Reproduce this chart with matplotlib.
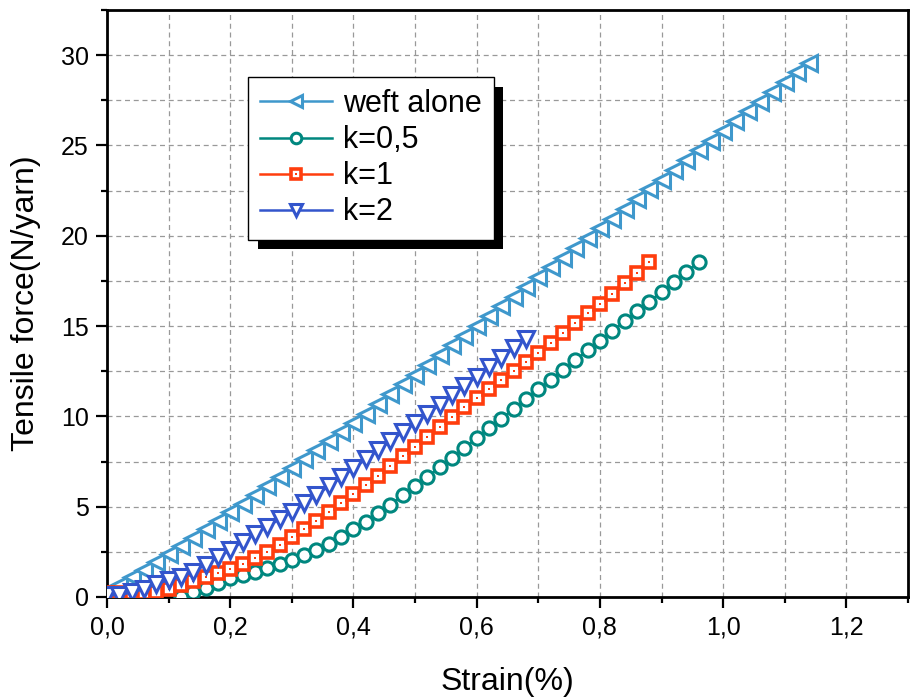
import matplotlib
matplotlib.use("Agg")
import matplotlib.pyplot as plt
import matplotlib.patheffects as pe
from matplotlib.ticker import MultipleLocator, FuncFormatter

plt.rcParams['font.family'] = ['Liberation Sans', 'DejaVu Sans']

# ---- data (strain %, tensile force N/yarn) ----
weft_x = [0.00, 0.02, 0.04, 0.06, 0.08, 0.10, 0.12, 0.14, 0.16, 0.18, 0.20, 0.22, 0.24, 0.26, 0.28,
          0.30, 0.32, 0.34, 0.36, 0.38, 0.40, 0.42, 0.44, 0.46, 0.48, 0.50, 0.52, 0.54, 0.56, 0.58,
          0.60, 0.62, 0.64, 0.66, 0.68, 0.70, 0.72, 0.74, 0.76, 0.78, 0.80, 0.82, 0.84, 0.86, 0.88,
          0.90, 0.92, 0.94, 0.96, 0.98, 1.00, 1.02, 1.04, 1.06, 1.08, 1.10, 1.12, 1.14]
weft_y = [0.25, 0.65, 1.08, 1.50, 1.93, 2.36, 2.81, 3.27, 3.74, 4.22, 4.70, 5.15, 5.65, 6.15, 6.65,
          7.15, 7.65, 8.15, 8.65, 9.15, 9.65, 10.15, 10.69, 11.23, 11.77, 12.31, 12.85, 13.39, 13.93, 14.47,
          15.01, 15.55, 16.09, 16.63, 17.17, 17.71, 18.25, 18.79, 19.33, 19.87, 20.41, 20.95, 21.49, 22.03, 22.57,
          23.11, 23.65, 24.19, 24.73, 25.27, 25.81, 26.35, 26.89, 27.43, 27.97, 28.51, 29.05, 29.59]

k05_x = [0.12, 0.14, 0.16, 0.18, 0.20, 0.22, 0.24, 0.26, 0.28, 0.30, 0.32, 0.34, 0.36, 0.38, 0.40,
         0.42, 0.44, 0.46, 0.48, 0.50, 0.52, 0.54, 0.56, 0.58, 0.60, 0.62, 0.64, 0.66, 0.68, 0.70,
         0.72, 0.74, 0.76, 0.78, 0.80, 0.82, 0.84, 0.86, 0.88, 0.90, 0.92, 0.94, 0.96]
k05_y = [0.00, 0.30, 0.48, 0.76, 1.03, 1.22, 1.38, 1.59, 1.80, 2.05, 2.32, 2.60, 2.95, 3.33, 3.74,
         4.18, 4.64, 5.12, 5.62, 6.13, 6.65, 7.18, 7.71, 8.25, 8.79, 9.33, 9.87, 10.41, 10.95, 11.49,
         12.03, 12.57, 13.11, 13.65, 14.19, 14.73, 15.27, 15.81, 16.35, 16.89, 17.43, 17.97, 18.55]

k1_x = [0.00, 0.02, 0.04, 0.06, 0.08, 0.10, 0.12, 0.14, 0.16, 0.18, 0.20, 0.22, 0.24, 0.26, 0.28,
        0.30, 0.32, 0.34, 0.36, 0.38, 0.40, 0.42, 0.44, 0.46, 0.48, 0.50, 0.52, 0.54, 0.56, 0.58,
        0.60, 0.62, 0.64, 0.66, 0.68, 0.70, 0.72, 0.74, 0.76, 0.78, 0.80, 0.82, 0.84, 0.86, 0.88]
k1_y = [0.20, 0.20, 0.20, 0.20, 0.25, 0.45, 0.65, 0.88, 1.10, 1.32, 1.56, 1.85, 2.15, 2.50, 2.90,
        3.30, 3.75, 4.20, 4.70, 5.20, 5.70, 6.20, 6.70, 7.25, 7.80, 8.30, 8.85, 9.40, 9.95, 10.50,
        11.00, 11.50, 12.00, 12.50, 13.00, 13.50, 14.05, 14.60, 15.15, 15.70, 16.25, 16.80, 17.40, 17.95, 18.55]

k2_x = [0.00, 0.02, 0.04, 0.06, 0.08, 0.10, 0.12, 0.14, 0.16, 0.18, 0.20, 0.22, 0.24, 0.26, 0.28,
        0.30, 0.32, 0.34, 0.36, 0.38, 0.40, 0.42, 0.44, 0.46, 0.48, 0.50, 0.52, 0.54, 0.56, 0.58,
        0.60, 0.62, 0.64, 0.66, 0.68]
k2_y = [0.10, 0.12, 0.25, 0.45, 0.72, 0.94, 1.12, 1.40, 1.77, 2.19, 2.60, 3.06, 3.50, 3.89, 4.30,
        4.70, 5.18, 5.64, 6.13, 6.62, 7.12, 7.62, 8.12, 8.62, 9.12, 9.63, 10.14, 10.65, 11.16, 11.68,
        12.20, 12.72, 13.24, 13.76, 14.30]

labels = ["weft alone", "k=0,5", "k=1", "k=2"]
colors = ["#3F98CC", "#00877F", "#FF3D0D", "#3355CC"]

fig = plt.figure(figsize=(9.10, 6.98), dpi=100)
ax = fig.add_axes([107/910, 1-597/698, (908-107)/910, (597-10)/698])

lw = 1.8
mew = 2.2
h_weft, = ax.plot(weft_x, weft_y, color=colors[0], lw=lw, marker='<', ms=11,
                  mfc='white', mec=colors[0], mew=mew, zorder=3)
h_k05, = ax.plot(k05_x, k05_y, color=colors[1], lw=lw, marker='o', ms=9.5,
                 mfc='white', mec=colors[1], mew=mew, zorder=3)
h_k1, = ax.plot(k1_x, k1_y, color=colors[2], lw=lw, marker='s', ms=8.5,
                mfc='white', mec=colors[2], mew=2.6, zorder=4)
h_k1d, = ax.plot(k1_x, k1_y, ls='none', marker='s', ms=2.0,
                 mfc=colors[2], mec=colors[2], mew=0, zorder=4)
h_k2, = ax.plot(k2_x, k2_y, color=colors[3], lw=lw, marker='v', ms=11,
                mfc='white', mec=colors[3], mew=mew, zorder=5)

ax.set_xlim(0, 1.3)
ax.set_ylim(0, 32.5)

ax.xaxis.set_major_locator(MultipleLocator(0.2))
ax.xaxis.set_minor_locator(MultipleLocator(0.1))
ax.yaxis.set_major_locator(MultipleLocator(5))
ax.yaxis.set_minor_locator(MultipleLocator(2.5))
ax.xaxis.set_major_formatter(FuncFormatter(lambda v, p: f"{v:.1f}".replace('.', ',')))
ax.yaxis.set_major_formatter(FuncFormatter(lambda v, p: f"{v:.0f}"))

ax.tick_params(which='major', direction='out', length=8, width=1.6, labelsize=18, pad=5,
               top=False, right=False)
ax.tick_params(which='minor', direction='out', length=4.5, width=1.6, top=False, right=False)
for s in ax.spines.values():
    s.set_linewidth(2)

ax.grid(True, which='both', color='#999999', ls=(0, (4, 3)), lw=0.9)
ax.set_axisbelow(True)

ax.set_xlabel("Strain(%)", fontsize=23, labelpad=20)
ax.set_ylabel("Tensile force(N/yarn)", fontsize=23, labelpad=14)

leg = ax.legend([h_weft, h_k05, (h_k1, h_k1d), h_k2], labels,
                loc='upper left', bbox_to_anchor=(0.176, 0.886), borderaxespad=0,
                fontsize=22, handlelength=2.35, handletextpad=0.35, labelspacing=0.2,
                borderpad=0.4, fancybox=False, framealpha=1, edgecolor='black',
                markerscale=0.8)
leg.get_frame().set_linewidth(1.0)
leg.get_frame().set_path_effects([pe.SimplePatchShadow(offset=(7, -7), shadow_rgbFace='black', alpha=1),
                                  pe.Normal()])
leg.set_zorder(10)

fig.savefig("out.png", dpi=100)
